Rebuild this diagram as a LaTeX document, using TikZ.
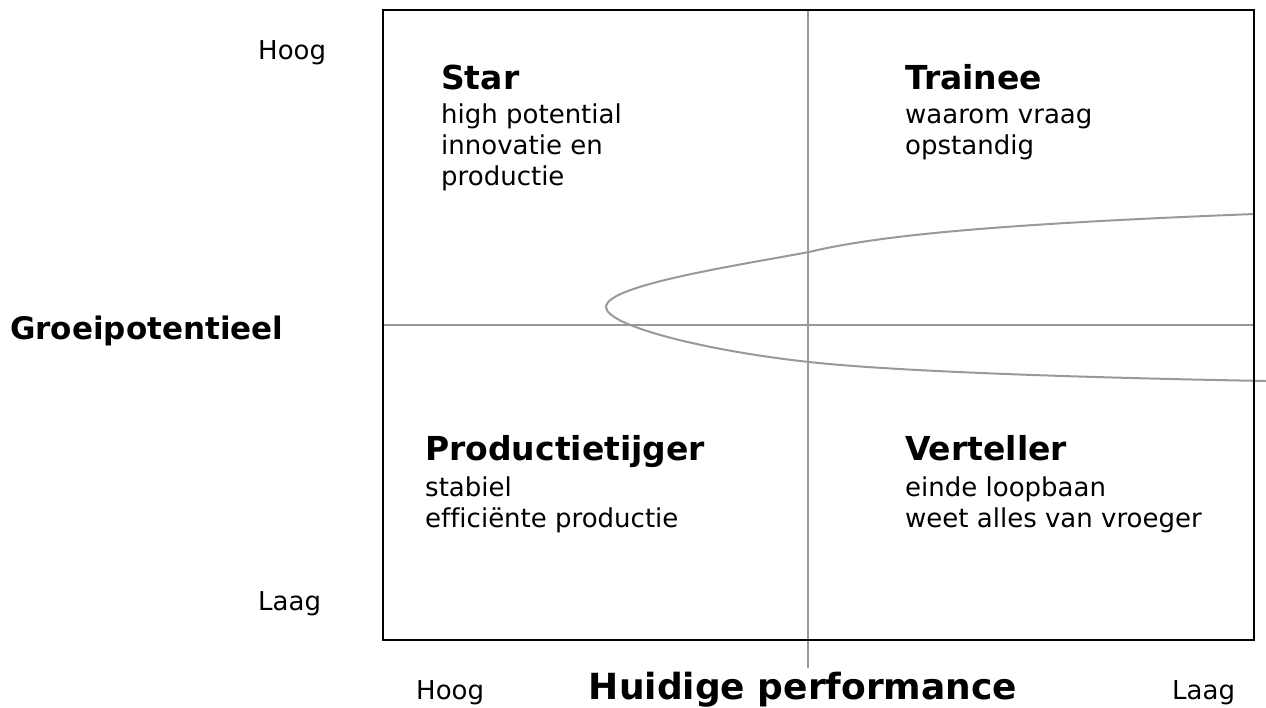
\documentclass[tikz,border=0pt]{standalone}
\usepackage{fontspec}
\setmainfont{DejaVu Sans}[Ligatures=NoCommon]
\begin{document}
\begin{tikzpicture}[
			x=1pt, y=-1pt,
			txt/.style={inner sep=0pt, anchor=base west, align=left, font=\fontsize{26}{31}\selectfont},
			kop/.style={inner sep=0pt, anchor=base west, font=\fontsize{33}{38}\selectfont\bfseries},
			grid/.style={draw=black!40, line width=2pt}
		]
		\useasboundingbox (0,0) rectangle (1266,707);
		% kwadranten
		\draw[grid] (808,10) -- (808,668);
		\draw[grid] (383,325) -- (1254,325);
		\draw[grid] (1254,214) .. controls (1000,224) and (880,235) .. (809,252)
			.. controls (740,265) and (606,285) .. (606,307)
			.. controls (606,325) and (700,350) .. (809,362)
			.. controls (900,372) and (1100,378) .. (1266,381);
		\draw[line width=2pt] (383,10) rectangle (1254,640);
		% tekst (base = laatste regel)
		\node[kop] (star) at (441,89) {Star};
		\node[txt] (startxt) at (441,185) {high potential\\innovatie en\\productie};
		\node[kop] (trainee) at (905,89) {Trainee};
		\node[txt] (traineetxt) at (905,154) {waarom vraag\\opstandig};
		\node[kop] (tijger) at (425,460) {Productietijger};
		\node[txt] (tijgertxt) at (425,527) {stabiel\\efficiënte productie};
		\node[kop] (verteller) at (905,460) {Verteller};
		\node[txt] (vertellertxt) at (905,527) {einde loopbaan\\weet alles van vroeger};
		% assen
		\node[txt] (yhoog) at (258,59) {Hoog};
		\node[txt] (ylaag) at (258,610) {Laag};
		\node[kop, font=\fontsize{31}{36}\selectfont\bfseries] (yas) at (10,339) {Groeipotentieel};
		\node[txt] (xhoog) at (416,699) {Hoog};
		\node[kop, anchor=base, font=\fontsize{36}{40}\selectfont\bfseries] (xas) at (803,699) {Huidige performance};
		\node[txt] (xlaag) at (1172,699) {Laag};
	\end{tikzpicture}
\end{document}
